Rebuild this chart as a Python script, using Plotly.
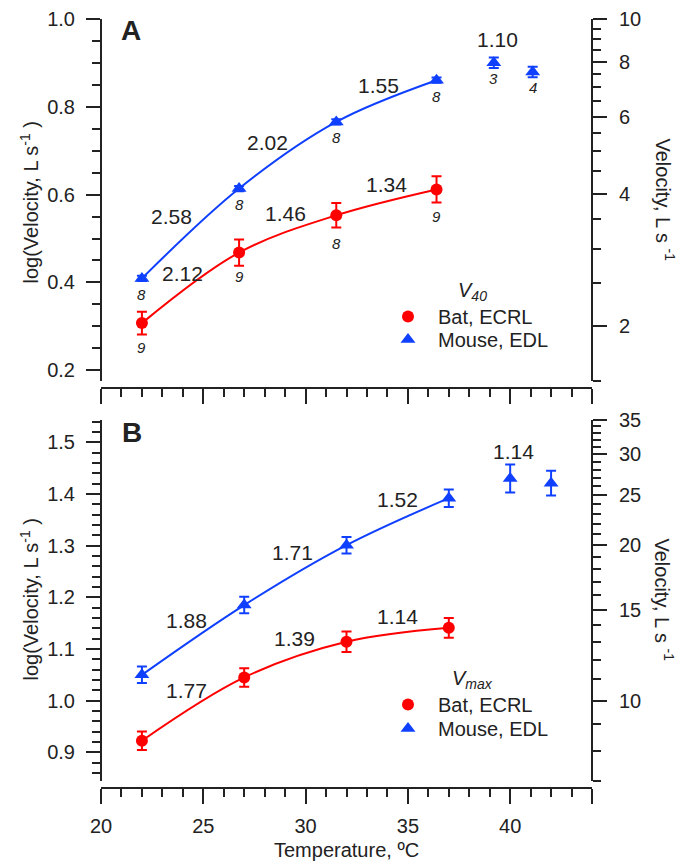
import math
import plotly.graph_objects as go

# ---------------- data ----------------
# Panel A (V40)
temp_A = [22, 26.75, 31.5, 36.4]
temp_A_mouse = [22, 26.75, 31.5, 36.4, 39.2, 41.1]
bat_A = [0.307, 0.468, 0.553, 0.612]
bat_A_err = [0.026, 0.030, 0.028, 0.030]
mouse_A = [0.409, 0.614, 0.766, 0.861, 0.901, 0.880]
mouse_A_err = [0.006, 0.006, 0.006, 0.006, 0.012, 0.012]
n_bat_A = ["9", "9", "8", "9"]
n_mouse_A = ["8", "8", "8", "8", "3", "4"]
q10_bat_A = ["2.12", "1.46", "1.34"]
q10_mouse_A = ["2.58", "2.02", "1.55", "1.10"]

# Panel B (Vmax)
temp_B = [22, 27, 32, 37]
temp_B_mouse = [22, 27, 32, 37, 40, 42]
bat_B = [0.9225, 1.045, 1.114, 1.141]
bat_B_err = [0.018, 0.018, 0.020, 0.019]
mouse_B = [1.050, 1.185, 1.301, 1.392, 1.430, 1.421]
mouse_B_err = [0.016, 0.016, 0.016, 0.017, 0.027, 0.024]
q10_bat_B = ["1.77", "1.39", "1.14"]
q10_mouse_B = ["1.88", "1.71", "1.52", "1.14"]

series_names = ["Bat, ECRL", "Mouse, EDL"]
left_ticks_A = [0.2, 0.4, 0.6, 0.8, 1.0]
left_ticks_B = [0.9, 1.0, 1.1, 1.2, 1.3, 1.4, 1.5]
right_ticks_A = [2, 4, 6, 8, 10]
right_minor_A = [1.5, 2.5, 3, 3.5, 4.5, 5, 5.5, 6.5, 7, 7.5, 8.5, 9, 9.5]
right_ticks_B = [10, 15, 20, 25, 30, 35]
right_minor_B = [7, 8, 9, 11, 12, 13, 14, 16, 17, 18, 19, 21, 22, 23, 24,
                 26, 27, 28, 29, 31, 32, 33, 34]
x_ticks = [20, 25, 30, 35, 40, 44]
x_ticktext = ["20", "25", "30", "35", "40", " "]

# ---------------- styling ----------------
W, H = 680, 863
RED = "#ff0000"
BLUE = "#1040ff"
INK = "#222222"
FONT = "Liberation Sans, Arial, sans-serif"


def px(v):
    return v / W


def py(v):
    return 1 - v / H


x0, x1 = px(101), px(592)
domA = [py(380.5), py(19.3)]
domB = [py(780.7), py(419.6)]

fig = go.Figure()


def add_panel(xax, yax, tx, tmx, bat, bat_err, mouse, mouse_err, legs):
    n = len(tx)
    fig.add_trace(go.Scatter(x=tx, y=bat, mode="lines", line=dict(color=RED, width=2, shape="spline"),
                             xaxis=xax, yaxis=yax, showlegend=False, hoverinfo="skip"))
    fig.add_trace(go.Scatter(x=tmx[:n], y=mouse[:n], mode="lines",
                             line=dict(color=BLUE, width=2, shape="spline"),
                             xaxis=xax, yaxis=yax, showlegend=False, hoverinfo="skip"))
    fig.add_trace(go.Scatter(x=tx, y=bat, mode="markers", name=series_names[0],
                             marker=dict(color=RED, size=12, symbol="circle"),
                             error_y=dict(type="data", array=bat_err, color=RED, thickness=2, width=5),
                             xaxis=xax, yaxis=yax, legend=legs[0]))
    fig.add_trace(go.Scatter(x=tmx, y=mouse, mode="markers", name=series_names[1],
                             marker=dict(color=BLUE, size=13, symbol="triangle-up"),
                             error_y=dict(type="data", array=mouse_err, color=BLUE, thickness=2, width=5),
                             xaxis=xax, yaxis=yax, legend=legs[1]))


add_panel("x", "y", temp_A, temp_A_mouse, bat_A, bat_A_err, mouse_A, mouse_A_err, ["legend", "legend2"])
add_panel("x2", "y3", temp_B, temp_B_mouse, bat_B, bat_B_err, mouse_B, mouse_B_err, ["legend3", "legend4"])

tickfont = dict(family=FONT, size=20, color=INK)


def xaxis_def(pos, labels):
    return dict(domain=[x0, x1], anchor="free", position=pos, range=[20, 44], automargin=False,
                showline=True, linecolor=INK, linewidth=2, showgrid=False, zeroline=False,
                tickmode="array", tickvals=x_ticks, ticktext=x_ticktext, ticks="outside",
                ticklen=15, tickwidth=2, tickcolor=INK, showticklabels=labels, tickfont=tickfont,
                ticklabelstandoff=5,
                minor=dict(dtick=1, tick0=20, ticks="outside", ticklen=8, tickwidth=2, tickcolor=INK))


def yleft_def(dom, rng, tv, minor_dtick):
    return dict(domain=dom, anchor="free", position=x0, range=rng, side="left", automargin=False,
                showline=True, linecolor=INK, linewidth=2, showgrid=False, zeroline=False,
                tickmode="array", tickvals=tv, ticktext=["%.1f" % v for v in tv],
                ticks="outside", ticklen=14, tickwidth=2, tickcolor=INK, tickfont=tickfont,
                ticklabelstandoff=7,
                minor=dict(dtick=minor_dtick, tick0=0, ticks="outside", ticklen=8, tickwidth=2, tickcolor=INK))


def yright_def(over, rng, tv, mv):
    return dict(overlaying=over, anchor="free", position=x1, side="right", type="log", range=rng,
                automargin=False,
                showline=True, linecolor=INK, linewidth=2, showgrid=False, zeroline=False,
                tickmode="array", tickvals=tv, ticktext=[str(v) for v in tv],
                ticks="outside", ticklen=14, tickwidth=2, tickcolor=INK, tickfont=tickfont,
                ticklabelstandoff=8,
                minor=dict(tickmode="array", tickvals=mv, ticks="outside", ticklen=8, tickwidth=2, tickcolor=INK))


rngA = [math.log10(1.5), 1.0]
rngB = [math.log10(7), math.log10(35)]


def leg(xp, yp):
    return dict(x=px(xp), y=py(yp), xanchor="left", yanchor="top", bgcolor="rgba(0,0,0,0)",
                font=dict(family=FONT, size=20, color=INK), itemwidth=50)


fig.update_layout(
    template="none",
    width=W, height=H, margin=dict(l=0, r=0, t=0, b=0, pad=0, autoexpand=False),
    paper_bgcolor="white", plot_bgcolor="white",
    font=dict(family=FONT, size=20, color=INK),
    xaxis=xaxis_def(py(388), False),
    xaxis2=xaxis_def(py(788), True),
    yaxis=yleft_def(domA, rngA, left_ticks_A, 0.05),
    yaxis2=yright_def("y", rngA, right_ticks_A, right_minor_A),
    yaxis3=yleft_def(domB, rngB, left_ticks_B, 0.02),
    yaxis4=yright_def("y3", rngB, right_ticks_B, right_minor_B),
    legend=leg(378, 297),
    legend2=leg(378, 320),
    legend3=leg(378, 685),
    legend4=leg(378, 709),
    showlegend=True,
)

# invisible traces so right axes render
fig.add_trace(go.Scatter(x=[None], y=[None], xaxis="x", yaxis="y2", showlegend=False, hoverinfo="skip"))
fig.add_trace(go.Scatter(x=[None], y=[None], xaxis="x2", yaxis="y4", showlegend=False, hoverinfo="skip"))

ann = []


def text(x, y, s, size=21, xref="paper", yref="paper", angle=0, xanchor="center", yanchor="middle", **kw):
    ann.append(dict(x=x, y=y, xref=xref, yref=yref, text=s, showarrow=False, textangle=angle,
                    xanchor=xanchor, yanchor=yanchor,
                    font=dict(family=FONT, size=size, color=INK), **kw))


# Q10 labels, panel A
for s, (x, y) in zip(q10_mouse_A, [(23.47, 0.551), (28.15, 0.720), (33.57, 0.850), (39.38, 0.953)]):
    text(x, y, s, xref="x", yref="y")
for s, (x, y) in zip(q10_bat_A, [(23.96, 0.421), (29.03, 0.558), (33.96, 0.624)]):
    text(x, y, s, xref="x", yref="y")
# Q10 labels, panel B
for s, (x, y) in zip(q10_mouse_B, [(24.2, 1.156), (29.37, 1.2863), (34.5, 1.390), (40.17, 1.4818)]):
    text(x, y, s, xref="x2", yref="y3")
for s, (x, y) in zip(q10_bat_B, [(24.2, 1.0206), (29.47, 1.1207), (34.5, 1.1625)]):
    text(x, y, s, xref="x2", yref="y3")

# sample sizes (panel A)
for s, x, y in zip(n_mouse_A, temp_A_mouse, mouse_A):
    text(x, y, "<i>%s</i>" % s, size=15, xref="x", yref="y", yshift=-16)
for s, x, y, sh in zip(n_bat_A, temp_A, bat_A, [-24, -24, -28, -27]):
    text(x, y, "<i>%s</i>" % s, size=15, xref="x", yref="y", yshift=sh)

# panel letters
text(px(131), py(31), "<b>A</b>", size=28)
text(px(132), py(433), "<b>B</b>", size=28)

# legend titles
text(px(472), py(291), "<i>V<sub>40</sub></i>", size=20)
text(px(472), py(679), "<i>V<sub>max</sub></i>", size=20)

# axis titles
text(px(14), py(202), "log(Velocity, L s<sup>-1</sup> )", size=20, angle=-90, xanchor="left")
text(px(14), py(599), "log(Velocity, L s<sup>-1</sup> )", size=20, angle=-90, xanchor="left")
text(px(679), py(200), "Velocity, L s <sup>-1</sup>", size=20, angle=90, xanchor="right")
text(px(679), py(600), "Velocity, L s <sup>-1</sup>", size=20, angle=90, xanchor="right")
text(px(346), py(850), "Temperature, ºC", size=20)

fig.update_layout(annotations=ann)
fig.write_html("out.html", config={"displayModeBar": False},
               post_script="document.body.style.margin='0px';")
